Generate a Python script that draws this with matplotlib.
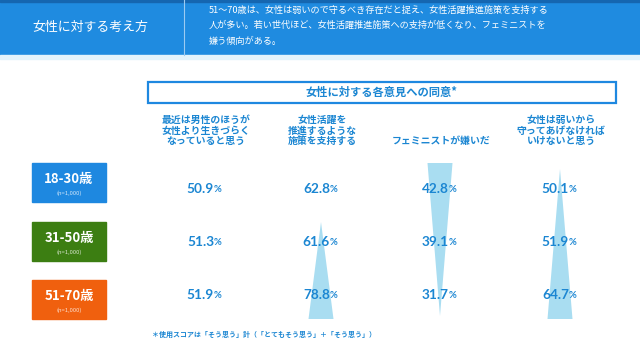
import matplotlib
matplotlib.use("Agg")
import matplotlib.pyplot as plt
from matplotlib.patches import Rectangle, Polygon

plt.rcParams['font.family'] = ['Noto Sans CJK JP', 'DejaVu Sans']

# ---- data ----
title = "女性に対する考え方"
summary = ["51～70歳は、女性は弱いので守るべき存在だと捉え、女性活躍推進施策を支持する",
           "人が多い。若い世代ほど、女性活躍推進施策への支持が低くなり、フェミニストを",
           "嫌う傾向がある。"]
box_title = "女性に対する各意見への同意*"
groups = ["18-30歳", "31-50歳", "51-70歳"]
sample_sizes = ["(n=1,000)", "(n=1,000)", "(n=1,000)"]
questions = ["最近は男性のほうが\n女性より生きづらく\nなっていると思う",
             "女性活躍を\n推進するような\n施策を支持する",
             "フェミニストが嫌いだ",
             "女性は弱いから\n守ってあげなければ\nいけないと思う"]
q1_values = [50.9, 51.3, 51.9]
q2_values = [62.8, 61.6, 78.8]
q3_values = [42.8, 39.1, 31.7]
q4_values = [50.1, 51.9, 64.7]
footnote = "＊使用スコアは「そう思う」計（「とてもそう思う」＋「そう思う」）"

all_values = [q1_values, q2_values, q3_values, q4_values]
group_colors = ["#1E88E0", "#3C7E12", "#F0600E"]
blue = "#1E88E0"
text_blue = "#1B86D2"
tri_color = "#A9DDF1"

W, H = 640, 353
fig = plt.figure(figsize=(W / 100, H / 100), dpi=100)
ax = fig.add_axes([0, 0, 1, 1])
ax.set_xlim(0, W)
ax.set_ylim(H, 0)
ax.axis('off')

# header
ax.add_patch(Rectangle((0, 0), W, 55, color="#1F8BE0", zorder=1))
ax.add_patch(Rectangle((0, 0), W, 2, color="#1566B0", zorder=2))
ax.add_patch(Rectangle((0, 55), W, 4, color="#E3F3FC", zorder=1))
ax.plot([184, 184], [0, 55], color="#9CCBF2", lw=0.8, zorder=2)
ax.text(90, 27, title, color="white", fontsize=9.3, ha="center", va="center", zorder=3)
for i, line in enumerate(summary):
    ax.text(209, 10 + i * 15.5, line, color="white", fontsize=6.6, ha="left", va="center", zorder=3)

# box
ax.add_patch(Rectangle((148, 82), 468, 21, fill=False, edgecolor=blue, lw=1.6, zorder=2))
ax.text(382, 92.5, box_title, color=text_blue, fontsize=8.1, fontweight="bold",
        ha="center", va="center", zorder=3)

col_x = [205, 321, 440, 560]
row_y = [189, 242, 295]
row_top = [163, 222, 280]
row_h = 39
label_bottom = 146

# question headers
for x, q in zip(col_x, questions):
    ax.text(x + 1, label_bottom, q, color=text_blue, fontsize=7.1, fontweight="bold",
            ha="center", va="bottom", linespacing=1.05, zorder=3)

# trend triangles (derived from data)
base_w = 25
bottom = row_top[-1] + row_h
for x, vals in zip(col_x, all_values):
    change = vals[-1] - vals[0]
    if abs(change) < 5:
        continue
    if change > 0:
        start = min(range(len(vals)), key=lambda k: vals[k])
        apex = row_y[start] - 20
        pts = [(x, apex), (x - base_w / 2, bottom), (x + base_w / 2, bottom)]
    else:
        start = max(range(len(vals)), key=lambda k: vals[k])
        top = row_top[start]
        pts = [(x - base_w / 2, top), (x + base_w / 2, top), (x, bottom - 3)]
    ax.add_patch(Polygon(pts, closed=True, color=tri_color, lw=0, zorder=1))

# group boxes
for g, n, c, t in zip(groups, sample_sizes, group_colors, row_top):
    ax.add_patch(Rectangle((32, t), 74, row_h, color=c, zorder=2))
    ax.text(69, t + 16, g, color="white", fontsize=9.5, fontweight="bold",
            ha="center", va="center", zorder=3)
    ax.text(69, t + 30, n, color="#FFFFFFCC", fontsize=4.2, ha="center", va="center", zorder=3)

# values
for x, vals in zip(col_x, all_values):
    for y, v in zip(row_y, vals):
        ax.text(x + 9, y, f"{v:.1f}", color=text_blue, fontsize=9.8, fontweight="bold",
                family="Lato", ha="right", va="center", zorder=4)
        ax.text(x + 9, y + 0.8, "%", color=text_blue, fontsize=6.8, fontweight="bold",
                family="Lato", ha="left", va="center", zorder=4)

ax.text(152, 334, footnote, color=text_blue, fontsize=5.0, fontweight="bold",
        ha="left", va="center", zorder=3)

fig.savefig("out.png", dpi=100, facecolor="white")
